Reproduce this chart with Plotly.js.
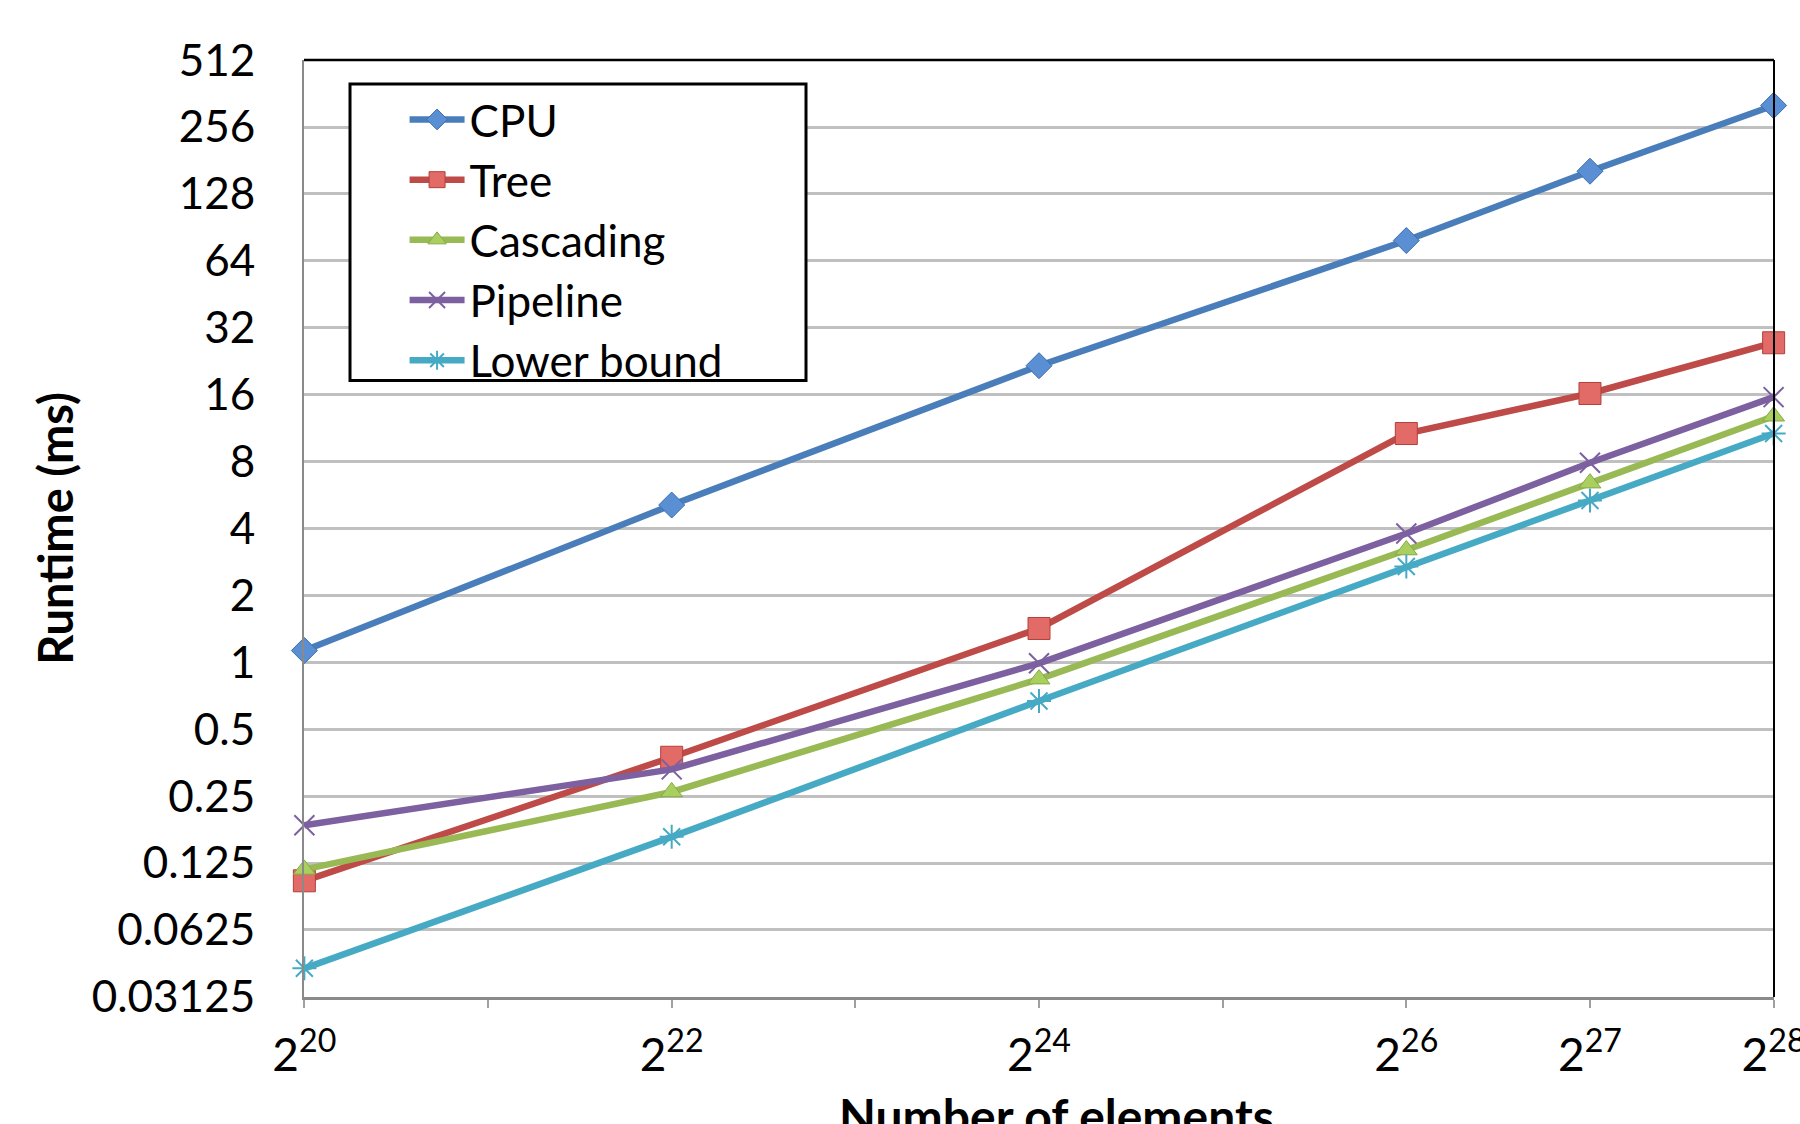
<!DOCTYPE html>
<html>
<head>
<meta charset="utf-8">
<script src="https://cdn.plot.ly/plotly-3.0.1.min.js"></script>
<style>
  html, body { margin: 0; padding: 0; background: #ffffff; }
  #chart { width: 1800px; height: 1124px; }
</style>
</head>
<body>
<div id="chart"></div>
<script>
// ---- data ----
const elements = [1048576, 4194304, 16777216, 67108864, 134217728, 268435456]; // 2^20,2^22,2^24,2^26,2^27,2^28
const seriesNames = ["CPU", "Tree", "Cascading", "Pipeline", "Lower bound"];
const cpu        = [1.13, 5.1, 21.6, 79, 162, 320];
const tree       = [0.104, 0.374, 1.42, 10.7, 16.2, 27.4];
const cascading  = [0.117, 0.261, 0.84, 3.2, 6.4, 12.8];
const pipeline   = [0.185, 0.33, 0.99, 3.8, 7.9, 15.6];
const lowerBound = [0.042, 0.164, 0.67, 2.7, 5.35, 10.7];

const xTickVals = [1048576, 2097152, 4194304, 8388608, 16777216, 33554432, 67108864, 134217728, 268435456];
const xTickText = ["2<sup>20</sup>", "", "2<sup>22</sup>", "", "2<sup>24</sup>", "", "2<sup>26</sup>", "2<sup>27</sup>", "2<sup>28</sup>"];
const yTickVals = [0.03125, 0.0625, 0.125, 0.25, 0.5, 1, 2, 4, 8, 16, 32, 64, 128, 256, 512];
const yTickText = ["0.03125", "0.0625", "0.125", "0.25", "0.5", "1", "2", "4", "8", "16", "32", "64", "128", "256", "512"];
const xTitle = "Number of elements";
const yTitle = "Runtime (ms)";

// ---- styles ----
const FONT = "Lato, 'DejaVu Sans', sans-serif";
const styles = [
  { line: "#4A7EBB", marker: { symbol: "diamond", size: 20, color: "#5B8FD4", line: { color: "#3E6EAD", width: 1 } } },
  { line: "#BE4B48", marker: { symbol: "square", size: 22, color: "#E26A67", line: { color: "#B2403D", width: 1 } } },
  { line: "#98B954", marker: { symbol: "triangle-up", size: 19, color: "#A9CF5E", line: { color: "#88A84A", width: 1 } } },
  { line: "#7D60A0", marker: { symbol: "x-thin-open", size: 20, color: "#7D60A0", line: { color: "#7D60A0", width: 2 } } },
  { line: "#46AAC5", marker: { symbol: "asterisk-open", size: 20, color: "#46AAC5", line: { color: "#46AAC5", width: 2 } } }
];
const values = [cpu, tree, cascading, pipeline, lowerBound];

const traces = seriesNames.map((name, i) => ({
  type: "scatter",
  mode: "lines+markers",
  name: name,
  x: elements,
  y: values[i],
  line: { color: styles[i].line, width: 6.5 },
  marker: styles[i].marker,
  cliponaxis: false
}));

const pad = 0.0006;
const layout = {
  width: 1800,
  height: 1124,
  margin: { l: 304, r: 26, t: 60, b: 127 },
  paper_bgcolor: "#ffffff",
  plot_bgcolor: "#ffffff",
  font: { family: FONT, size: 44, color: "#000000" },
  showlegend: true,
  legend: {
    x: 0.031, y: 0.974, xanchor: "left", yanchor: "top",
    bgcolor: "rgba(255,255,255,0)",
    borderwidth: 0,
    indentation: 55,
    itemwidth: 55,
    font: { family: FONT, size: 44, color: "#000000" },
    tracegroupgap: 0
  },
  xaxis: {
    type: "log",
    range: [Math.log10(xTickVals[0]) - pad, Math.log10(xTickVals[xTickVals.length - 1]) + pad],
    tickmode: "array",
    tickvals: xTickVals,
    ticktext: xTickText,
    ticks: "outside",
    ticklen: 8,
    tickwidth: 2,
    tickcolor: "#A0A0A0",
    ticklabelstandoff: 8,
    ticklabeloverflow: "allow",
    showgrid: false,
    showline: true,
    linecolor: "#8A8A8A",
    linewidth: 3,
    zeroline: false,
    tickfont: { family: FONT, size: 46, color: "#000000" }
  },
  yaxis: {
    type: "log",
    range: [Math.log10(yTickVals[0]) - pad, Math.log10(yTickVals[yTickVals.length - 1]) + pad],
    tickmode: "array",
    tickvals: yTickVals,
    ticktext: yTickText,
    ticks: "",
    ticklabelstandoff: 38,
    showgrid: true,
    gridcolor: "#C0C0C0",
    gridwidth: 3,
    showline: true,
    linecolor: "#8A8A8A",
    linewidth: 2,
    zeroline: false,
    tickfont: { family: FONT, size: 44, color: "#000000" },
    title: { text: "<b>" + yTitle + "</b>", font: { family: FONT, size: 47, color: "#000000" }, standoff: 3 }
  },
  annotations: [
    { text: "<b>" + xTitle + "</b>", xref: "paper", yref: "paper", x: 0.5, y: 0, xanchor: "center", yanchor: "top",
      xshift: 17, yshift: -88, showarrow: false, font: { family: FONT, size: 48, color: "#000000" } }
  ],
  shapes: [
    { type: "line", xref: "paper", yref: "paper", x0: 0, x1: 1, y0: 1, y1: 1, line: { color: "#000000", width: 2.5 } },
    { type: "line", xref: "paper", yref: "paper", x0: 1, x1: 1, y0: 0, y1: 1, line: { color: "#000000", width: 2 } },
    { type: "rect", xref: "paper", yref: "paper", x0: 0.0313, x1: 0.3415, y0: 0.658, y1: 0.9745,
      line: { color: "#000000", width: 3 }, fillcolor: "#ffffff", layer: "above" }
  ]
};

Plotly.newPlot("chart", traces, layout, { staticPlot: true, displayModeBar: false });
</script>
</body>
</html>
